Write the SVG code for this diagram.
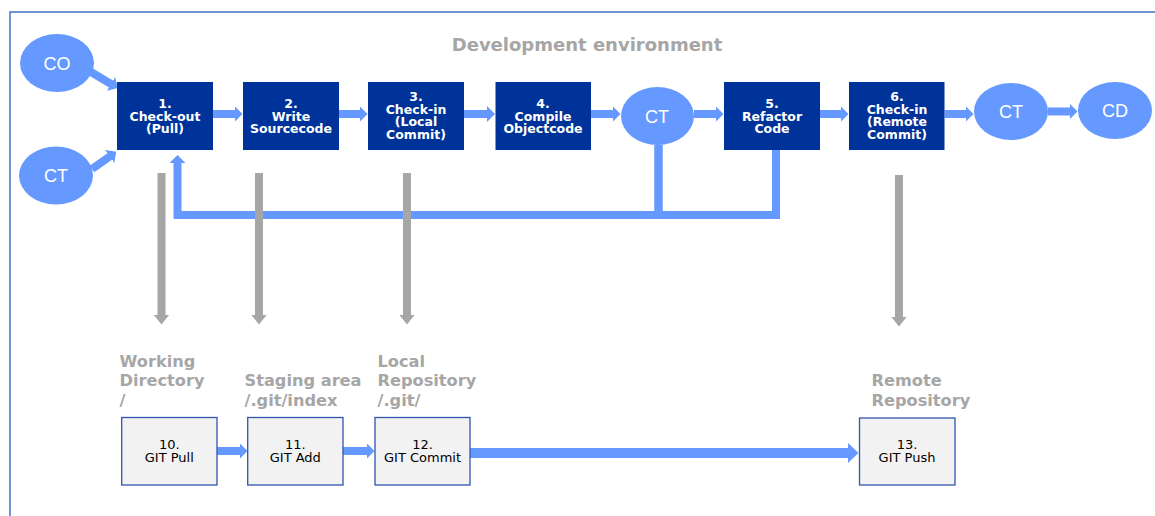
<svg xmlns="http://www.w3.org/2000/svg" width="1155" height="516" viewBox="0 0 1155 516">
<style>
  .frame{fill:none;stroke:#4472c4;stroke-width:1.5}
  .step{fill:#003399}
  .steptxt{font-family:"DejaVu Sans","Verdana",sans-serif;font-weight:bold;font-size:12.5px;fill:#ffffff;text-anchor:middle}
  .oval{fill:#6699ff}
  .ovaltxt{font-family:"Liberation Sans",Arial,sans-serif;font-size:18px;fill:#ffffff;text-anchor:middle}
  .git{fill:#f2f2f2;stroke:#2f55b0;stroke-width:1.3}
  .gittxt{font-family:"DejaVu Sans","Verdana",sans-serif;font-size:13px;fill:#000000;text-anchor:middle}
  .lbl{font-family:"DejaVu Sans","Verdana",sans-serif;font-weight:bold;font-size:16.2px;fill:#a6a6a6}
  .title{font-family:"DejaVu Sans","Verdana",sans-serif;font-weight:bold;font-size:18px;fill:#a6a6a6;text-anchor:middle}
  .blue{fill:none;stroke:#6699ff;stroke-width:8;marker-end:url(#bh)}
  .blueplain{fill:none;stroke:#6699ff;stroke-width:8.5}
  .big{fill:none;stroke:#6699ff;stroke-width:10;marker-end:url(#bigh)}
  .gray{fill:none;stroke:#a6a6a6;stroke-width:8;marker-end:url(#gh)}
</style>
<defs>
  <marker id="bh" markerUnits="userSpaceOnUse" viewBox="0 0 8 16" markerWidth="8" markerHeight="16" refX="0.5" refY="8" orient="auto">
    <path d="M0,0 L8,8 L0,16 Z" fill="#6699ff"/>
  </marker>
  <marker id="bigh" markerUnits="userSpaceOnUse" viewBox="0 0 11 21" markerWidth="11" markerHeight="21" refX="0.5" refY="10.5" orient="auto">
    <path d="M0,0 L11,10.5 L0,21 Z" fill="#6699ff"/>
  </marker>
  <marker id="gh" markerUnits="userSpaceOnUse" viewBox="0 0 10 16" markerWidth="10" markerHeight="16" refX="0.5" refY="8" orient="auto">
    <path d="M0,0 L10,8 L0,16 Z" fill="#a6a6a6"/>
  </marker>
</defs>

<rect class="frame" x="10" y="12" width="1160" height="520"/>
<text class="title" x="587" y="51">Development environment</text>

<g id="connectors">
  <line class="blue" x1="91" y1="72" x2="111.4" y2="84.2"/>
  <line class="blue" x1="92" y1="169" x2="110.1" y2="156.2"/>
  <line class="blue" x1="213" y1="114" x2="235" y2="114"/>
  <line class="blue" x1="339" y1="114" x2="360" y2="114"/>
  <line class="blue" x1="464" y1="114" x2="487.5" y2="114"/>
  <line class="blue" x1="591" y1="114" x2="613" y2="114"/>
  <line class="blue" x1="694" y1="114" x2="716" y2="114"/>
  <line class="blue" x1="820" y1="114" x2="841" y2="114"/>
  <line class="blue" x1="944.5" y1="114" x2="966" y2="114"/>
  <line class="blue" x1="1048" y1="111.5" x2="1070" y2="111.5"/>
  <path class="blueplain" d="M658.5,145 V215"/>
  <path class="blue" d="M776,150 V215 H177.5 V162.5" stroke-linejoin="miter"/>
  <line class="gray" x1="161.5" y1="173" x2="161.5" y2="315"/>
  <line class="gray" x1="259" y1="173" x2="259" y2="315"/>
  <line class="gray" x1="407" y1="173" x2="407" y2="315"/>
  <line class="gray" x1="899" y1="175" x2="899" y2="317"/>
  <line class="blue" x1="217" y1="451" x2="240" y2="451"/>
  <line class="blue" x1="343" y1="451" x2="367" y2="451"/>
  <line class="big" x1="470" y1="453" x2="848" y2="453"/>
</g>

<g id="co">
  <ellipse class="oval" cx="57" cy="63" rx="37" ry="29"/>
  <text class="ovaltxt" x="57" y="69.5">CO</text>
</g>
<g id="ct-start">
  <ellipse class="oval" cx="56" cy="175.5" rx="37" ry="29"/>
  <text class="ovaltxt" x="56" y="182">CT</text>
</g>
<g id="step1">
  <rect class="step" x="117" y="82" width="96" height="68"/>
  <text class="steptxt" x="165" y="108">1.</text>
  <text class="steptxt" x="165" y="120.5">Check-out</text>
  <text class="steptxt" x="165" y="133">(Pull)</text>
</g>
<g id="step2">
  <rect class="step" x="243" y="82" width="96" height="68"/>
  <text class="steptxt" x="291" y="108">2.</text>
  <text class="steptxt" x="291" y="120.5">Write</text>
  <text class="steptxt" x="291" y="133">Sourcecode</text>
</g>
<g id="step3">
  <rect class="step" x="368" y="82" width="96" height="68"/>
  <text class="steptxt" x="416" y="100.5">3.</text>
  <text class="steptxt" x="416" y="113.5">Check-in</text>
  <text class="steptxt" x="416" y="126">(Local</text>
  <text class="steptxt" x="416" y="139">Commit)</text>
</g>
<g id="step4">
  <rect class="step" x="495.5" y="82" width="95.5" height="68"/>
  <text class="steptxt" x="543" y="108">4.</text>
  <text class="steptxt" x="543" y="120.5">Compile</text>
  <text class="steptxt" x="543" y="133">Objectcode</text>
</g>
<g id="ct-mid">
  <ellipse class="oval" cx="657.5" cy="116" rx="36.5" ry="29"/>
  <text class="ovaltxt" x="657" y="122.5">CT</text>
</g>
<g id="step5">
  <rect class="step" x="724" y="82" width="96" height="68"/>
  <text class="steptxt" x="772" y="108">5.</text>
  <text class="steptxt" x="772" y="120.5">Refactor</text>
  <text class="steptxt" x="772" y="133">Code</text>
</g>
<g id="step6">
  <rect class="step" x="849" y="82" width="95.5" height="68"/>
  <text class="steptxt" x="897" y="100.5">6.</text>
  <text class="steptxt" x="897" y="113.5">Check-in</text>
  <text class="steptxt" x="897" y="126">(Remote</text>
  <text class="steptxt" x="897" y="139">Commit)</text>
</g>
<g id="ct-end">
  <ellipse class="oval" cx="1011" cy="111.5" rx="37" ry="28.5"/>
  <text class="ovaltxt" x="1011" y="118">CT</text>
</g>
<g id="cd">
  <ellipse class="oval" cx="1115" cy="110.5" rx="37" ry="28.5"/>
  <text class="ovaltxt" x="1115" y="117">CD</text>
</g>

<g id="label-working">
  <text class="lbl" x="119.5" y="366.5">Working</text>
  <text class="lbl" x="119.5" y="386">Directory</text>
  <text class="lbl" x="119.5" y="405.5">/</text>
</g>
<g id="label-staging">
  <text class="lbl" x="244.5" y="386">Staging area</text>
  <text class="lbl" x="244.5" y="405.5">/.git/index</text>
</g>
<g id="label-local">
  <text class="lbl" x="377.5" y="366.5">Local</text>
  <text class="lbl" x="377.5" y="386">Repository</text>
  <text class="lbl" x="377.5" y="405.5">/.git/</text>
</g>
<g id="label-remote">
  <text class="lbl" x="871.5" y="386">Remote</text>
  <text class="lbl" x="871.5" y="405.5">Repository</text>
</g>

<g id="git-pull">
  <rect class="git" x="121.7" y="417.5" width="95.3" height="67.5"/>
  <text class="gittxt" x="169.3" y="449">10.</text>
  <text class="gittxt" x="169.3" y="462">GIT Pull</text>
</g>
<g id="git-add">
  <rect class="git" x="247.7" y="417.5" width="95.3" height="67.5"/>
  <text class="gittxt" x="295.3" y="449">11.</text>
  <text class="gittxt" x="295.3" y="462">GIT Add</text>
</g>
<g id="git-commit">
  <rect class="git" x="375" y="417.5" width="95" height="67.5"/>
  <text class="gittxt" x="422.5" y="449">12.</text>
  <text class="gittxt" x="422.5" y="462">GIT Commit</text>
</g>
<g id="git-push">
  <rect class="git" x="859.5" y="418" width="95.5" height="67"/>
  <text class="gittxt" x="907" y="449">13.</text>
  <text class="gittxt" x="907" y="462">GIT Push</text>
</g>
</svg>
